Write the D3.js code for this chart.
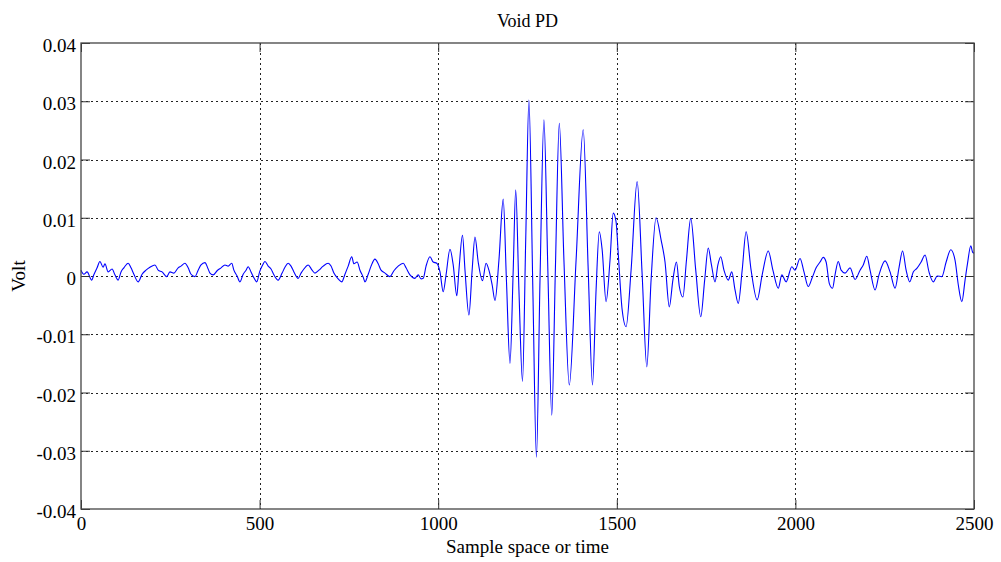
<!DOCTYPE html>
<html>
<head>
<meta charset="utf-8">
<script src="https://cdn.jsdelivr.net/npm/d3@7"></script>
<style>
  html, body { margin: 0; padding: 0; background: #fff; }
  svg { display: block; }
  text { font-family: "Liberation Serif", "Times New Roman", serif; fill: #000; }
</style>
</head>
<body>
<svg id="chart" width="1001" height="562"></svg>
<script>
// ---------- data ----------
const titleText = "Void PD";
const xLabelText = "Sample space or time";
const yLabelText = "Volt";

const xTicks = [0, 500, 1000, 1500, 2000, 2500];
const xTickLabels = ["0", "500", "1000", "1500", "2000", "2500"];
const yTicks = [0.04, 0.03, 0.02, 0.01, 0, -0.01, -0.02, -0.03, -0.04];
const yTickLabels = ["0.04", "0.03", "0.02", "0.01", "0", "-0.01", "-0.02", "-0.03", "-0.04"];

// sample index
const samples = [
  0, 8, 17, 30, 36, 45, 53, 62, 67, 76, 87, 95, 104, 112, 120, 132, 140, 148, 160, 171,
  182, 193, 207, 216, 227, 240, 249, 260, 272, 280, 291, 300, 308, 319, 328, 336, 347, 356, 361, 370,
  381, 392, 403, 412, 422, 428, 437, 445, 454, 462, 468, 476, 484, 492, 500, 507, 515, 524, 532, 540,
  552, 563, 571, 580, 588, 596, 608, 616, 624, 636, 647, 655, 666, 678, 692, 700, 708, 720, 730, 739,
  748, 758, 764, 773, 781, 790, 795, 804, 812, 823, 832, 840, 851, 865, 876, 888, 902, 910, 921, 935,
  944, 952, 958, 966, 977, 986, 996, 1005,
  1014, 1022, 1033, 1042, 1052, 1058, 1068, 1075, 1086, 1095, 1103, 1112, 1124, 1134, 1142, 1151, 1159, 1170, 1182, 1191,
  1201, 1210, 1217, 1226, 1236, 1245, 1254, 1265, 1275, 1285, 1296, 1307, 1318, 1328, 1339, 1352, 1367, 1386, 1406, 1420,
  1432, 1442, 1451, 1459, 1470, 1481, 1490, 1498, 1504, 1515, 1526, 1540, 1557, 1571, 1584, 1596, 1610, 1624, 1635, 1647,
  1657, 1667, 1675, 1685, 1695, 1707, 1721, 1735, 1746, 1756, 1765, 1775, 1783, 1791, 1800, 1812, 1822, 1831, 1840, 1851,
  1862, 1876, 1893, 1907, 1924, 1937, 1952, 1962, 1974, 1990, 1999, 2013, 2024, 2036, 2047, 2058, 2069, 2078, 2086, 2095,
  2104, 2111, 2120, 2128, 2139, 2153, 2167, 2181, 2190, 2200, 2209, 2223, 2234, 2251, 2265, 2279, 2290, 2300, 2310, 2320,
  2330, 2340, 2352, 2363, 2374, 2386, 2397, 2410, 2422, 2435, 2447, 2456, 2466, 2475, 2482, 2491, 2496, 2500
];

// voltage
const volts = [
  0.0010, 0.0003, 0.0007, -0.0007, 0.0002, 0.0014, 0.0025, 0.0015, 0.0021, 0.0007, 0.0012, 0.0002, -0.0007, 0.0007, 0.0014, 0.0022, 0.0014, 0.0003, -0.0010, 0.0003,
  0.0010, 0.0015, 0.0019, 0.0010, 0.0007, -0.0001, 0.0007, 0.0005, 0.0014, 0.0017, 0.0022, 0.0014, 0.0003, -0.0001, 0.0010, 0.0019, 0.0023, 0.0012, 0.0005, 0.0002,
  0.0009, 0.0014, 0.0019, 0.0017, 0.0022, 0.0010, 0.0000, -0.0010, 0.0003, 0.0010, 0.0016, 0.0007, -0.0003, -0.0010, 0.0007, 0.0017, 0.0025, 0.0017, 0.0012, 0.0002,
  -0.0007, 0.0005, 0.0015, 0.0022, 0.0017, 0.0007, -0.0004, 0.0005, 0.0012, 0.0019, 0.0010, 0.0005, 0.0010, 0.0017, 0.0022, 0.0017, 0.0005, -0.0005, -0.0010, 0.0003,
  0.0017, 0.0033, 0.0021, 0.0024, 0.0010, -0.0002, -0.0010, 0.0003, 0.0017, 0.0029, 0.0021, 0.0010, 0.0005, -0.0001, 0.0009, 0.0017, 0.0022, 0.0014, 0.0002, -0.0004,
  0.0002, -0.0005, -0.0004, 0.0017, 0.0033, 0.0024, 0.0022, 0.0007,
  -0.0027, 0.0002, 0.0046, 0.0019, -0.0034, 0.0010, 0.0070, 0.0010, -0.0067, 0.0010, 0.0067, 0.0024, -0.0008, 0.0022, 0.0010, -0.0015, -0.0042, 0.0027, 0.0132, -0.0007,
  -0.0150, 0.0010, 0.0148, -0.0024, -0.0181, 0.0062, 0.0302, -0.0024, -0.0311, -0.0007, 0.0268, 0.0010, -0.0239, 0.0010, 0.0262, 0.0027, -0.0187, 0.0027, 0.0251, 0.0010,
  -0.0187, -0.0024, 0.0076, 0.0045, -0.0044, 0.0027, 0.0108, 0.0093, 0.0039, -0.0058, -0.0087, 0.0010, 0.0162, 0.0002, -0.0156, -0.0007, 0.0100, 0.0062, 0.0024, -0.0053,
  -0.0007, 0.0024, -0.0018, -0.0036, 0.0027, 0.0099, 0.0010, -0.0070, -0.0007, 0.0048, 0.0019, -0.0010, 0.0019, 0.0033, 0.0010, -0.0007, 0.0007, -0.0024, -0.0047, 0.0010,
  0.0076, 0.0010, -0.0041, 0.0002, 0.0043, 0.0010, -0.0021, 0.0002, -0.0010, 0.0016, 0.0010, 0.0030, 0.0007, -0.0018, -0.0003, 0.0014, 0.0024, 0.0032, 0.0024, -0.0013,
  -0.0021, 0.0002, 0.0025, 0.0010, 0.0005, 0.0014, -0.0006, 0.0010, 0.0019, 0.0034, 0.0010, -0.0024, 0.0002, 0.0026, 0.0007, -0.0021, 0.0014, 0.0043, 0.0010, -0.0010,
  0.0007, 0.0013, 0.0024, 0.0036, 0.0007, -0.0010, 0.0000, -0.0001, 0.0024, 0.0045, 0.0027, -0.0015, -0.0044, -0.0007, 0.0022, 0.0052, 0.0041, 0.0039
];

// ---------- layout ----------
const svg = d3.select("#chart");
const plot = { left: 81, top: 43, right: 974, bottom: 509 };

const x = d3.scaleLinear().domain([0, 2500]).range([plot.left, plot.right]);
const y = d3.scaleLinear().domain([-0.04, 0.04]).range([plot.bottom, plot.top]);

// grid
const grid = svg.append("g").attr("class", "grid");
grid.selectAll("line.gx").data(xTicks.slice(1, -1)).enter().append("line")
  .attr("x1", d => Math.round(x(d)) + 0.5).attr("x2", d => Math.round(x(d)) + 0.5)
  .attr("y1", plot.top).attr("y2", plot.bottom)
  .attr("stroke", "#222").attr("stroke-width", 1).attr("stroke-dasharray", "2,3");
grid.selectAll("line.gy").data(yTicks.slice(1, -1)).enter().append("line")
  .attr("y1", d => Math.round(y(d)) + 0.5).attr("y2", d => Math.round(y(d)) + 0.5)
  .attr("x1", plot.left).attr("x2", plot.right)
  .attr("stroke", "#222").attr("stroke-width", 1).attr("stroke-dasharray", "2,3");

// data line
const line = d3.line()
  .x((d, i) => x(samples[i]))
  .y(d => y(d))
  .curve(d3.curveMonotoneX);

svg.append("path")
  .datum(volts)
  .attr("d", line)
  .attr("fill", "none")
  .attr("stroke", "#0000ff")
  .attr("stroke-width", 1.1)
  .attr("stroke-linejoin", "round");

// axes (ticks inward, MATLAB style)
const tickLen = 9;
const fontSize = 19;

const xAxis = d3.axisBottom(x).tickValues(xTicks)
  .tickFormat((d, i) => xTickLabels[i]).tickSizeInner(-tickLen).tickSizeOuter(0).tickPadding(8);
const gx = svg.append("g").attr("transform", `translate(0,${plot.bottom})`).call(xAxis);

const yAxis = d3.axisLeft(y).tickValues(yTicks)
  .tickFormat((d, i) => yTickLabels[i]).tickSizeInner(-tickLen).tickSizeOuter(0).tickPadding(5);
const gy = svg.append("g").attr("transform", `translate(${plot.left},0)`).call(yAxis);

// top and right tick marks
const gxTop = svg.append("g").attr("transform", `translate(0,${plot.top})`)
  .call(d3.axisTop(x).tickValues(xTicks).tickFormat("").tickSizeInner(-tickLen).tickSizeOuter(0));
const gyRight = svg.append("g").attr("transform", `translate(${plot.right},0)`)
  .call(d3.axisRight(y).tickValues(yTicks).tickFormat("").tickSizeInner(-tickLen).tickSizeOuter(0));

[gx, gy, gxTop, gyRight].forEach(g => {
  g.select(".domain").remove();
  g.selectAll(".tick line").attr("stroke", "#333").attr("stroke-width", 1);
  g.selectAll("text")
    .attr("font-family", "'Liberation Serif', 'Times New Roman', serif")
    .attr("font-size", fontSize).attr("fill", "#000");
});
gy.selectAll("text").attr("dy", "0.45em");

// frame
svg.append("rect")
  .attr("x", plot.left).attr("y", plot.top)
  .attr("width", plot.right - plot.left).attr("height", plot.bottom - plot.top)
  .attr("fill", "none").attr("stroke", "#444").attr("stroke-width", 1.3);

// title & labels
svg.append("text").attr("x", (plot.left + plot.right) / 2).attr("y", 27)
  .attr("text-anchor", "middle").attr("font-size", 18).text(titleText);
svg.append("text").attr("x", (plot.left + plot.right) / 2).attr("y", 553)
  .attr("text-anchor", "middle").attr("font-size", fontSize).text(xLabelText);
svg.append("text").attr("transform", `translate(25,${(plot.top + plot.bottom) / 2}) rotate(-90)`)
  .attr("text-anchor", "middle").attr("font-size", fontSize).text(yLabelText);
</script>
</body>
</html>
